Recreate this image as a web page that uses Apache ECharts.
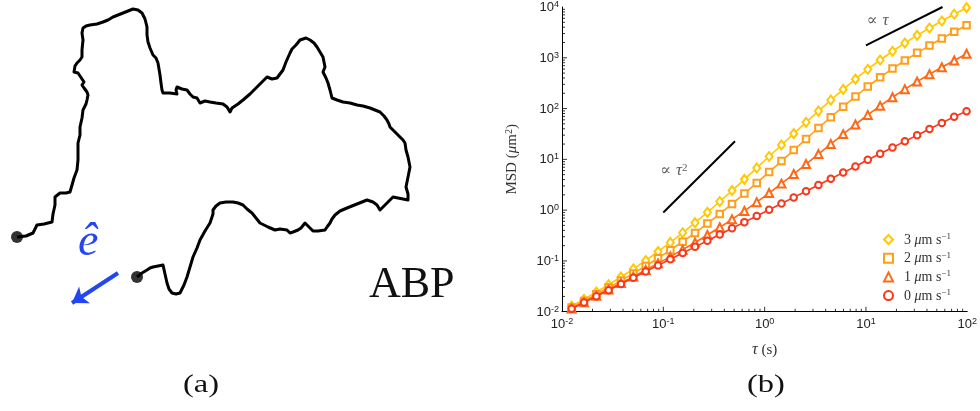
<!DOCTYPE html>
<html>
<head>
<meta charset="utf-8">
<script src="https://cdn.jsdelivr.net/npm/echarts@6/dist/echarts.min.js"></script>
<style>html,body{margin:0;padding:0;background:#fff}#c{width:980px;height:411px}</style>
</head>
<body>
<div id="c"></div>
<script>
// ---------- Panel (b) data ----------
const tau = [0.01245,0.01648,0.02183,0.02884,0.03822,0.0506,0.067,0.0887,0.1173,0.1552,0.2056,0.2723,0.3606,0.4764,0.631,0.836,1.107,1.466,1.936,2.564,3.396,4.498,5.957,7.87,10.42,13.8,18.28,24.21,31.99,42.36,56.1,74.3,98.4];
const msd0 = [0.01145,0.01516,0.02008,0.02653,0.03516,0.04655,0.06164,0.0816,0.1079,0.1428,0.1892,0.2505,0.3318,0.4383,0.5805,0.7691,1.018,1.349,1.781,2.359,3.124,4.138,5.48,7.24,9.8,12.9,17.1,22.6,29.8,39.5,52.2,69,89];
const msd1 = [0.01161,0.01543,0.02056,0.02736,0.03662,0.04911,0.06613,0.08947,0.1216,0.1667,0.231,0.3235,0.4592,0.6592,0.9646,1.436,2.169,3.328,5.145,8.063,12.7,20.02,31.39,48.57,75,113,167,241,340,474,652,885,1200];
const msd2 = [0.01207,0.01625,0.02199,0.02986,0.041,0.05679,0.0796,0.1131,0.1626,0.2383,0.3563,0.5425,0.8414,1.322,2.117,3.435,5.622,9.266,15.24,25.17,41.42,67.64,109.1,172.5,272,412,612,885,1250,1740,2390,3250,4380];
const msd3 = [0.01285,0.0176,0.02437,0.03402,0.04831,0.06959,0.102,0.1524,0.2309,0.3576,0.5652,0.9075,1.478,2.426,4.037,6.768,11.38,19.16,32.06,53.69,89.3,147,238.7,379.2,595,905,1346,1954,2766,3856,5303,7219,9700];
const seriesNames = ['3','2','1','0'];
const seriesColors = ['#FFC800','#FF9E18','#FF6814','#F7381C'];
const seriesSymbols = ['emptyDiamond','emptyRect','emptyTriangle','emptyCircle'];
const legendSymbols = ['diamond','rect','triangle','circle'];
const slope2 = [[0.1,0.9],[0.51,22.7]];
const slope1 = [[10,1750],[57,10000]];
const slope2Label = [[0.127,6]];
const slope1Label = [[13,5300]];
const xMajorTicks = [0.1, 1, 10];
const yMajorTicks = [0.1, 1, 10, 100, 1000];
const xDecades = [-2,-1,0,1];
const yDecades = [-2,-1,0,1,2,3];

// ---------- Panel (a) data (trajectory) ----------
const traj = [[17,237],[26,236],[33,233],[35,229],[37,225],[44,224],[52,222],[53,214],[55,205],[55,197],[60,193],[66,193],[70,192],[72,185],[74,178],[77,170],[78,160],[78,150],[78,143],[80,135],[80,127],[82,118],[83,110],[86,104],[87,100],[88,95],[87,92],[84,88],[82,85],[84,82],[83,80],[80,76],[78,73],[74,72],[73,70],[75,66],[77,63],[80,60],[82,57],[82,50],[83,40],[82,33],[83,28],[86,26],[90,25],[97,24],[103,22],[108,20],[113,17],[118,15],[123,13],[128,11],[133,9],[138,10],[142,13],[145,19],[147,27],[147,35],[148,42],[150,48],[153,55],[156,58],[158,63],[159,69],[160,75],[161,83],[162,90],[163,93],[170,93],[177,94],[176,90],[177,87],[182,89],[187,90],[190,94],[193,97],[197,98],[200,103],[205,101],[210,102],[216,103],[223,104],[227,107],[230,112],[232,108],[233,107],[238,104],[243,100],[250,94],[257,87],[262,82],[267,77],[272,79],[277,78],[280,74],[283,70],[286,62],[290,53],[292,49],[293,47],[296,45],[298,43],[300,40],[302,38],[306,38],[310,40],[314,43],[317,47],[320,52],[323,57],[324,62],[325,67],[323,72],[326,78],[328,83],[330,90],[332,98],[337,100],[343,102],[350,103],[357,105],[363,106],[370,108],[375,110],[380,112],[384,116],[387,120],[389,124],[390,127],[395,132],[400,137],[403,140],[405,143],[406,150],[408,157],[409,162],[410,167],[408,177],[406,187],[408,194],[408,200],[403,199],[398,198],[393,197],[390,200],[388,202],[384,206],[380,210],[377,205],[373,202],[370,201],[367,200],[357,204],[347,208],[340,211],[335,215],[332,219],[330,223],[327,227],[325,230],[318,231],[313,231],[309,227],[305,223],[301,228],[298,230],[293,232],[290,233],[287,230],[285,228],[280,229],[275,230],[268,227],[260,223],[256,218],[252,213],[247,209],[243,205],[238,203],[233,202],[226,202],[220,203],[216,206],[213,210],[213,214],[210,223],[205,231],[200,240],[197,248],[193,257],[190,267],[187,277],[184,285],[180,293],[176,294],[172,293],[169,289],[167,283],[165,274],[163,265],[158,266],[153,267],[150,268],[147,270],[142,273],[137,277]];
const dots = [[17,237],[137,277]];
const arrow = [[118,273],[72,303]];

// ---------- helpers (positions/styles only) ----------
function minorValues(decades) {
  const out = [];
  decades.forEach(d => { for (let m = 2; m <= 9; m++) out.push(+(m * Math.pow(10, d)).toPrecision(3)); });
  return out;
}
const tickRich = {
  b: {fontSize: 13, fontFamily: 'Liberation Sans', color: '#222', lineHeight: 14, verticalAlign: 'bottom'},
  s: {fontSize: 9, fontFamily: 'Liberation Sans', color: '#222', lineHeight: 9, verticalAlign: 'top'}
};
function powLabel(v) {
  const e = Math.round(Math.log10(v));
  return '{b|10}{s|' + e + '}';
}
const serifFont = 'Liberation Serif';
const X0 = 0.01, Y0 = 0.01;
function xTickSeries(values, len) {
  return {type: 'scatter', xAxisIndex: 0, yAxisIndex: 0, silent: true, clip: false,
    data: values.map(v => [v, Y0]), symbol: 'rect', symbolSize: [1, len], symbolOffset: [0, -len / 2],
    itemStyle: {color: '#000'}, z: 10};
}
function yTickSeries(values, len) {
  return {type: 'scatter', xAxisIndex: 0, yAxisIndex: 0, silent: true, clip: false,
    data: values.map(v => [X0, v]), symbol: 'rect', symbolSize: [len, 1], symbolOffset: [len / 2, 0],
    itemStyle: {color: '#000'}, z: 10};
}

const series = [];
const lineSets = [msd3, msd2, msd1, msd0];
for (let i = 0; i < 4; i++) {
  series.push({
    name: seriesNames[i], type: 'line', xAxisIndex: 0, yAxisIndex: 0,
    data: tau.map((t, k) => [t, lineSets[i][k]]),
    symbol: seriesSymbols[i], symbolSize: i === 0 ? [7, 9] : (i === 2 ? 8 : 6.5),
    showAllSymbol: true,
    lineStyle: {color: seriesColors[i], width: 1.6},
    itemStyle: {color: seriesColors[i], borderColor: seriesColors[i], borderWidth: 1.3},
    z: 3 + i
  });
}
series.push({type: 'line', xAxisIndex: 0, yAxisIndex: 0, data: slope2, symbol: 'none', lineStyle: {color: '#000', width: 2}, silent: true});
series.push({type: 'line', xAxisIndex: 0, yAxisIndex: 0, data: slope1, symbol: 'none', lineStyle: {color: '#000', width: 2}, silent: true});
series.push({type: 'scatter', xAxisIndex: 0, yAxisIndex: 0, data: slope2Label, symbolSize: 0,
  label: {show: true, position: 'inside', formatter: '{n|∝ }{i|τ}{s|2}',
    rich: {n: {fontSize: 16, fontFamily: 'DejaVu Serif', color: '#333', lineHeight: 17, verticalAlign: 'bottom'},
           i: {fontSize: 17, fontFamily: serifFont, fontStyle: 'italic', color: '#333', lineHeight: 17, verticalAlign: 'bottom'},
           s: {fontSize: 11, fontFamily: serifFont, color: '#333', lineHeight: 11, verticalAlign: 'top'}}}});
series.push({type: 'scatter', xAxisIndex: 0, yAxisIndex: 0, data: slope1Label, symbolSize: 0,
  label: {show: true, position: 'inside', formatter: '{n|∝ }{i|τ}',
    rich: {n: {fontSize: 16, fontFamily: 'DejaVu Serif', color: '#333'},
           i: {fontSize: 17, fontFamily: serifFont, fontStyle: 'italic', color: '#333'}}}});
// axis ticks (inward), placed through the log axes
series.push(xTickSeries(minorValues(xDecades), 3));
series.push(yTickSeries(minorValues(yDecades), 3));
series.push(xTickSeries(xMajorTicks, 5));
series.push(yTickSeries(yMajorTicks, 5));
// panel (a)
series.push({type: 'line', xAxisIndex: 1, yAxisIndex: 1, data: traj, symbol: 'none', lineStyle: {color: '#000', width: 3, join: 'round'}, silent: true});
series.push({type: 'scatter', xAxisIndex: 1, yAxisIndex: 1, data: dots, symbolSize: 12, itemStyle: {color: '#000'}, silent: true});
series.push({type: 'lines', coordinateSystem: 'cartesian2d', xAxisIndex: 1, yAxisIndex: 1,
  data: [{coords: arrow}], symbol: ['none', 'arrow'], symbolSize: 15,
  lineStyle: {color: '#2446F2', width: 4, opacity: 1}, silent: true});

const option = {
  animation: false,
  backgroundColor: '#fff',
  grid: [
    {left: 562, top: 6, width: 408, height: 305.7, containLabel: false},
    {left: 0, top: 0, width: 470, height: 330}
  ],
  xAxis: [
    {type: 'log', gridIndex: 0, logBase: 10, min: 0.01, max: 100, splitNumber: 4, position: 'bottom',
     axisLine: {onZero: false, lineStyle: {color: '#000', width: 1}},
     axisTick: {show: false},
     splitLine: {show: false},
     axisLabel: {formatter: powLabel, rich: tickRich, margin: 5},
     name: '{i|τ}{n| (s)}', nameLocation: 'middle', nameGap: 30,
     nameTextStyle: {rich: {i: {fontSize: 16, fontFamily: serifFont, fontStyle: 'italic', color: '#333'}, n: {fontSize: 15, fontFamily: serifFont, color: '#333'}}}},
    {type: 'value', gridIndex: 1, min: 0, max: 470, show: false, axisLine: {onZero: false}}
  ],
  yAxis: [
    {type: 'log', gridIndex: 0, logBase: 10, min: 0.01, max: 10000, splitNumber: 6, position: 'left',
     axisLine: {show: true, onZero: false, lineStyle: {color: '#000', width: 1}},
     axisTick: {show: false},
     splitLine: {show: false},
     axisLabel: {formatter: powLabel, rich: tickRich, margin: 3},
     name: '{n|MSD (}{i|μ}{n|m}{s|2}{n|)}', nameLocation: 'middle', nameGap: 42, nameRotate: 90,
     nameTextStyle: {rich: {n: {fontSize: 15, fontFamily: serifFont, color: '#333', lineHeight: 16, verticalAlign: 'bottom'},
                            i: {fontSize: 15, fontFamily: serifFont, fontStyle: 'italic', color: '#333', lineHeight: 16, verticalAlign: 'bottom'},
                            s: {fontSize: 10, fontFamily: serifFont, color: '#333', lineHeight: 10, verticalAlign: 'top'}}}},
    {type: 'value', gridIndex: 1, min: 0, max: 330, inverse: true, show: false, axisLine: {onZero: false}}
  ],
  legend: {
    orient: 'vertical', left: 878, top: 227, itemWidth: 9, itemHeight: 9, itemGap: 3.7,
    data: seriesNames.map((n, i) => ({name: n, icon: legendSymbols[i],
      itemStyle: {color: '#fff', borderColor: seriesColors[i], borderWidth: 2}})),
    formatter: n => '{n|' + n + ' }{i|μ}{n|m s}{s|−1}',
    textStyle: {padding: [0, 0, 0, 6], rich: {
      n: {fontSize: 14, fontFamily: serifFont, color: '#333', lineHeight: 15, verticalAlign: 'bottom'},
      i: {fontSize: 14, fontFamily: serifFont, fontStyle: 'italic', color: '#333', lineHeight: 15, verticalAlign: 'bottom'},
      s: {fontSize: 9, fontFamily: serifFont, color: '#333', lineHeight: 9, verticalAlign: 'top'}}}
  },
  graphic: [
    {type: 'text', left: 183, top: 372, style: {text: '(a)', font: '26px "Liberation Serif"', fill: '#111'}, scaleX: 1.25},
    {type: 'text', left: 747, top: 372, style: {text: '(b)', font: '26px "Liberation Serif"', fill: '#111'}, scaleX: 1.25},
    {type: 'text', left: 78, top: 220, style: {text: 'ê', font: 'italic 46px "Liberation Serif"', fill: '#2446F2'}},
    {type: 'text', left: 369, top: 263, style: {text: 'ABP', font: '44px "Liberation Serif"', fill: '#111'}}
  ],
  series: series
};
const chart = echarts.init(document.getElementById('c'), null, {renderer: 'canvas'});
chart.setOption(option);
</script>
</body>
</html>
